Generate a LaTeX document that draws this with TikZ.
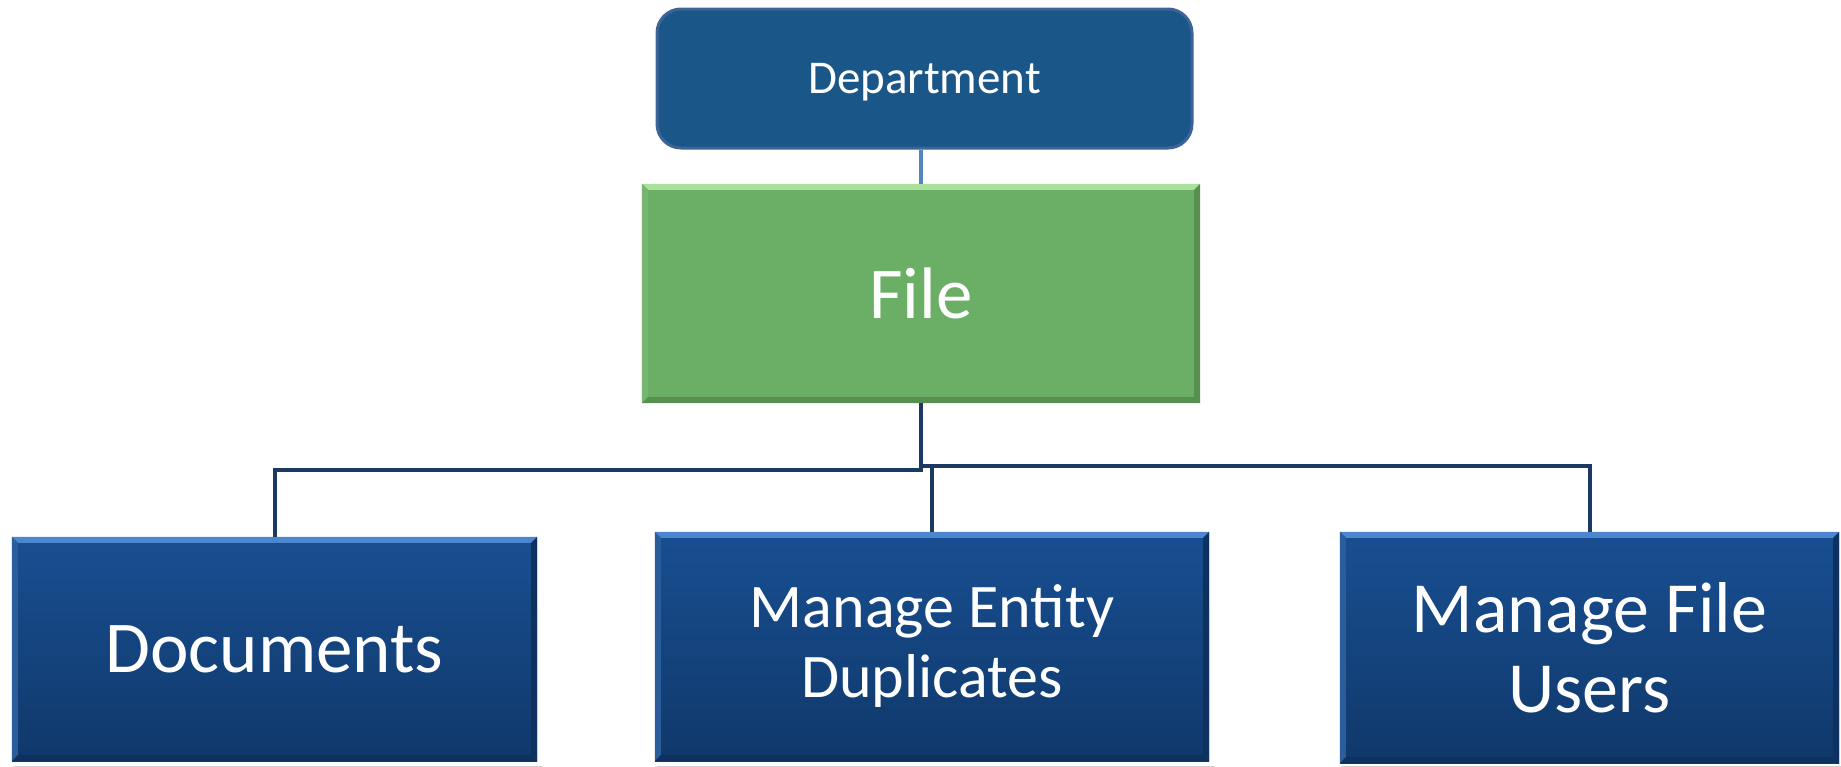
\documentclass[tikz,border=0pt]{standalone}
\usepackage{fontspec}
\setmainfont{Carlito}
\usetikzlibrary{calc,backgrounds}

\definecolor{deptfill}{HTML}{1B5689}
\definecolor{deptedge}{HTML}{3D6496}
\definecolor{filefill}{HTML}{6BAE65}
\definecolor{filelight}{HTML}{A8E09C}
\definecolor{filedark}{HTML}{578F52}
\definecolor{bluetop}{HTML}{184F92}
\definecolor{bluebot}{HTML}{10386A}
\definecolor{bluelight}{HTML}{4C86CF}
\definecolor{bluedark}{HTML}{0E3160}
\definecolor{linkcol}{HTML}{1C3A61}
\definecolor{uplink}{HTML}{5585C0}

\tikzset{
  box/.style={rectangle, inner sep=0pt, text=white, align=center},
  deptbox/.style={box, fill=deptfill, draw=deptedge, line width=3pt,
    rounded corners=24pt, minimum width=535pt, minimum height=139pt,
    text depth=0pt, font=\fontsize{47}{56}\selectfont},
  filebox/.style={box, fill=filefill, minimum width=558pt, minimum height=219pt,
    font=\fontsize{73}{84}\selectfont},
  taskbox/.style={box, top color=bluetop, bottom color=bluebot},
  link/.style={draw=linkcol, line width=4pt},
  uplinkstyle/.style={draw=uplink, line width=4pt},
  softshadow/.style={fill=black, opacity=0.10},
}

% bevelled edges of a flat box: light top, faint left, darker right and bottom
\newcommand\bevelbox[4]{%
  \fill[#2] (#1.north west) -- (#1.north east) -- ([shift={(-6,6)}]#1.north east)
    -- ([shift={(6,6)}]#1.north west) -- cycle;
  \fill[#3] (#1.north west) -- ([shift={(6,6)}]#1.north west)
    -- ([shift={(6,-6)}]#1.south west) -- (#1.south west) -- cycle;
  \fill[#4] (#1.north east) -- ([shift={(-6,6)}]#1.north east)
    -- ([shift={(-6,-6)}]#1.south east) -- (#1.south east) -- cycle;
  \fill[#4] (#1.south west) -- ([shift={(6,-6)}]#1.south west)
    -- ([shift={(-6,-6)}]#1.south east) -- (#1.south east) -- cycle;
}
\newcommand\shadowbox[1]{%
  \begin{scope}[on background layer]
    \fill[softshadow] ([shift={(3,5)}]#1.north west) rectangle ([shift={(6,10)}]#1.south east);
    \fill[softshadow] ([shift={(1,3)}]#1.north west) rectangle ([shift={(4,6)}]#1.south east);
  \end{scope}%
}

\begin{document}
\begin{tikzpicture}[x=1pt, y=-1pt]
  \useasboundingbox (0,0) rectangle (1841,766);
  \fill[white] (0,0) rectangle (1841,766);

  % nodes
  \node[deptbox] (dept) at (924.5,78.5) {Department};
  \node[filebox] (file) at (921,293.5) {File};
  \node[taskbox, minimum width=525pt, minimum height=224pt,
        font=\fontsize{73}{84}\selectfont] (docs) at (274.5,649) {Documents};
  \node[taskbox, minimum width=554pt, minimum height=229pt,
        font=\fontsize{62}{70}\selectfont] (dup) at (932,646.5) {Manage Entity\\Duplicates};
  \node[taskbox, minimum width=499pt, minimum height=231pt,
        font=\fontsize{72}{80}\selectfont] (users) at (1589.5,647.5) {Manage File\\Users};

  % bevels and shadows
  \bevelbox{file}{filelight}{filefill!92!white}{filedark}
  \bevelbox{docs}{bluelight}{bluetop!92!white}{bluedark}
  \bevelbox{dup}{bluelight}{bluetop!92!white}{bluedark}
  \bevelbox{users}{bluelight}{bluetop!92!white}{bluedark}
  \shadowbox{file}
  \shadowbox{docs}
  \shadowbox{dup}
  \shadowbox{users}

  % bus levels
  \coordinate (lvlL) at (0,470);
  \coordinate (lvlR) at (0,466);
  \coordinate (lvlM) at (0,468);

  % connectors
  \draw[uplinkstyle] (file.north) -- (file.north |- dept.south);
  \draw[link] (file.south) -- (file.south |- lvlL) -| (docs.north);
  \draw[link] (file.south |- lvlR) -| (users.north);
  \draw[link] (dup.north |- lvlM) -- (dup.north);
\end{tikzpicture}
\end{document}
